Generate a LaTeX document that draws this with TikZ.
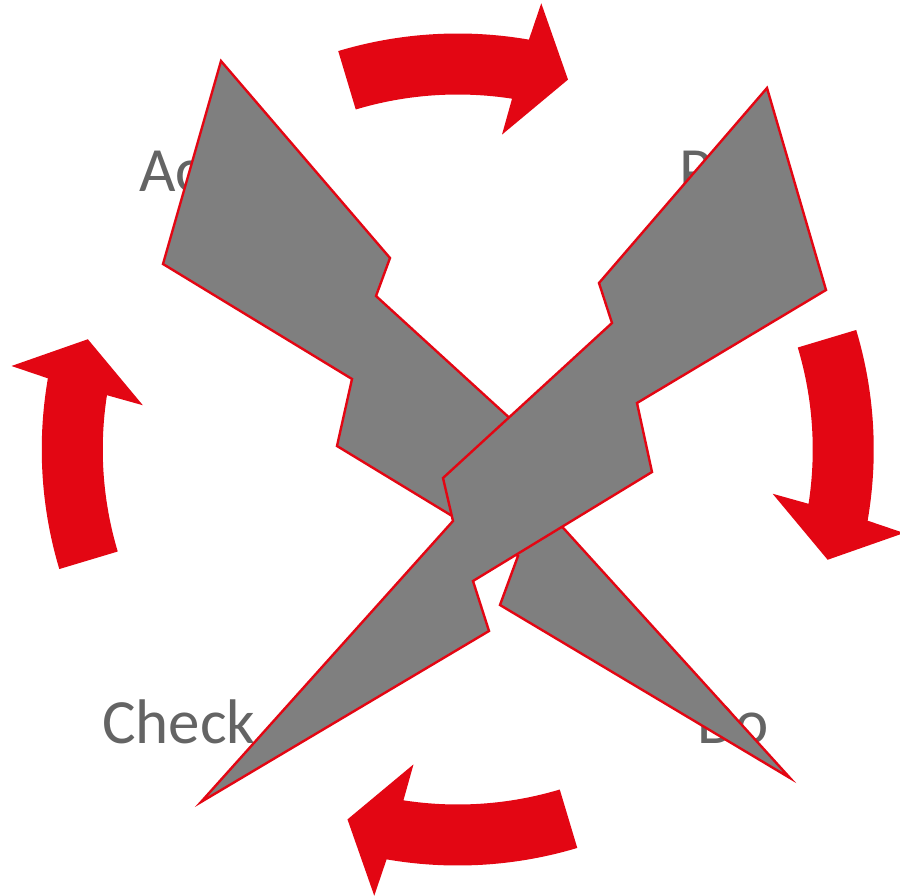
\documentclass[tikz,border=0pt]{standalone}
\usepackage{fontspec}
\setmainfont{Carlito}
\definecolor{arrowred}{RGB}{227,6,19}
\definecolor{boltgray}{RGB}{127,127,127}
\definecolor{labelgray}{RGB}{100,100,100}
\tikzset{
  cyclearrow/.style={fill=arrowred, draw=none},
  bolt/.style={fill=boltgray, draw=arrowred, line width=2.4pt, line join=miter},
  label/.style={anchor=base west, inner sep=0pt, text=labelgray, font=\fontsize{63}{75}\selectfont}
}
\begin{document}
\begin{tikzpicture}[x=1pt,y=-1pt]
\useasboundingbox (0,0) rectangle (900,896);
% labels
\node[label] (act) at (139,192) {Act};
\node[label] (plan) at (679,192) {Plan};
\node[label] (check) at (102,743) {Check};
\node[label] (do) at (697,743) {Do};
% cycle arrows
\coordinate (center) at (457.75,449.5);
\foreach \k in {0,1,2,3}{
  \begin{scope}[shift={(center)}, rotate=-90*\k]
    \fill[cyclearrow] (106.7:416pt) arc[start angle=106.7, end angle=80.15, radius=416pt]
      -- (79.4:454pt) -- (73.4:386pt) -- (82:318pt) -- (81.2:355pt)
      arc[start angle=81.2, end angle=106.7, radius=355pt] -- cycle;
  \end{scope}
}
% lightning bolts
\draw[bolt] (221,61) -- (390,258) -- (376,296) -- (549,454) -- (537,499) -- (790,778)
  -- (500,605) -- (518,556) -- (337,446) -- (352,379) -- (163,264) -- cycle;
\draw[bolt] (767,88) -- (599,283) -- (612,323) -- (443,478) -- (453,521) -- (201,802)
  -- (489,631) -- (473,581) -- (652,472) -- (637,403) -- (826,290) -- cycle;
\end{tikzpicture}
\end{document}
